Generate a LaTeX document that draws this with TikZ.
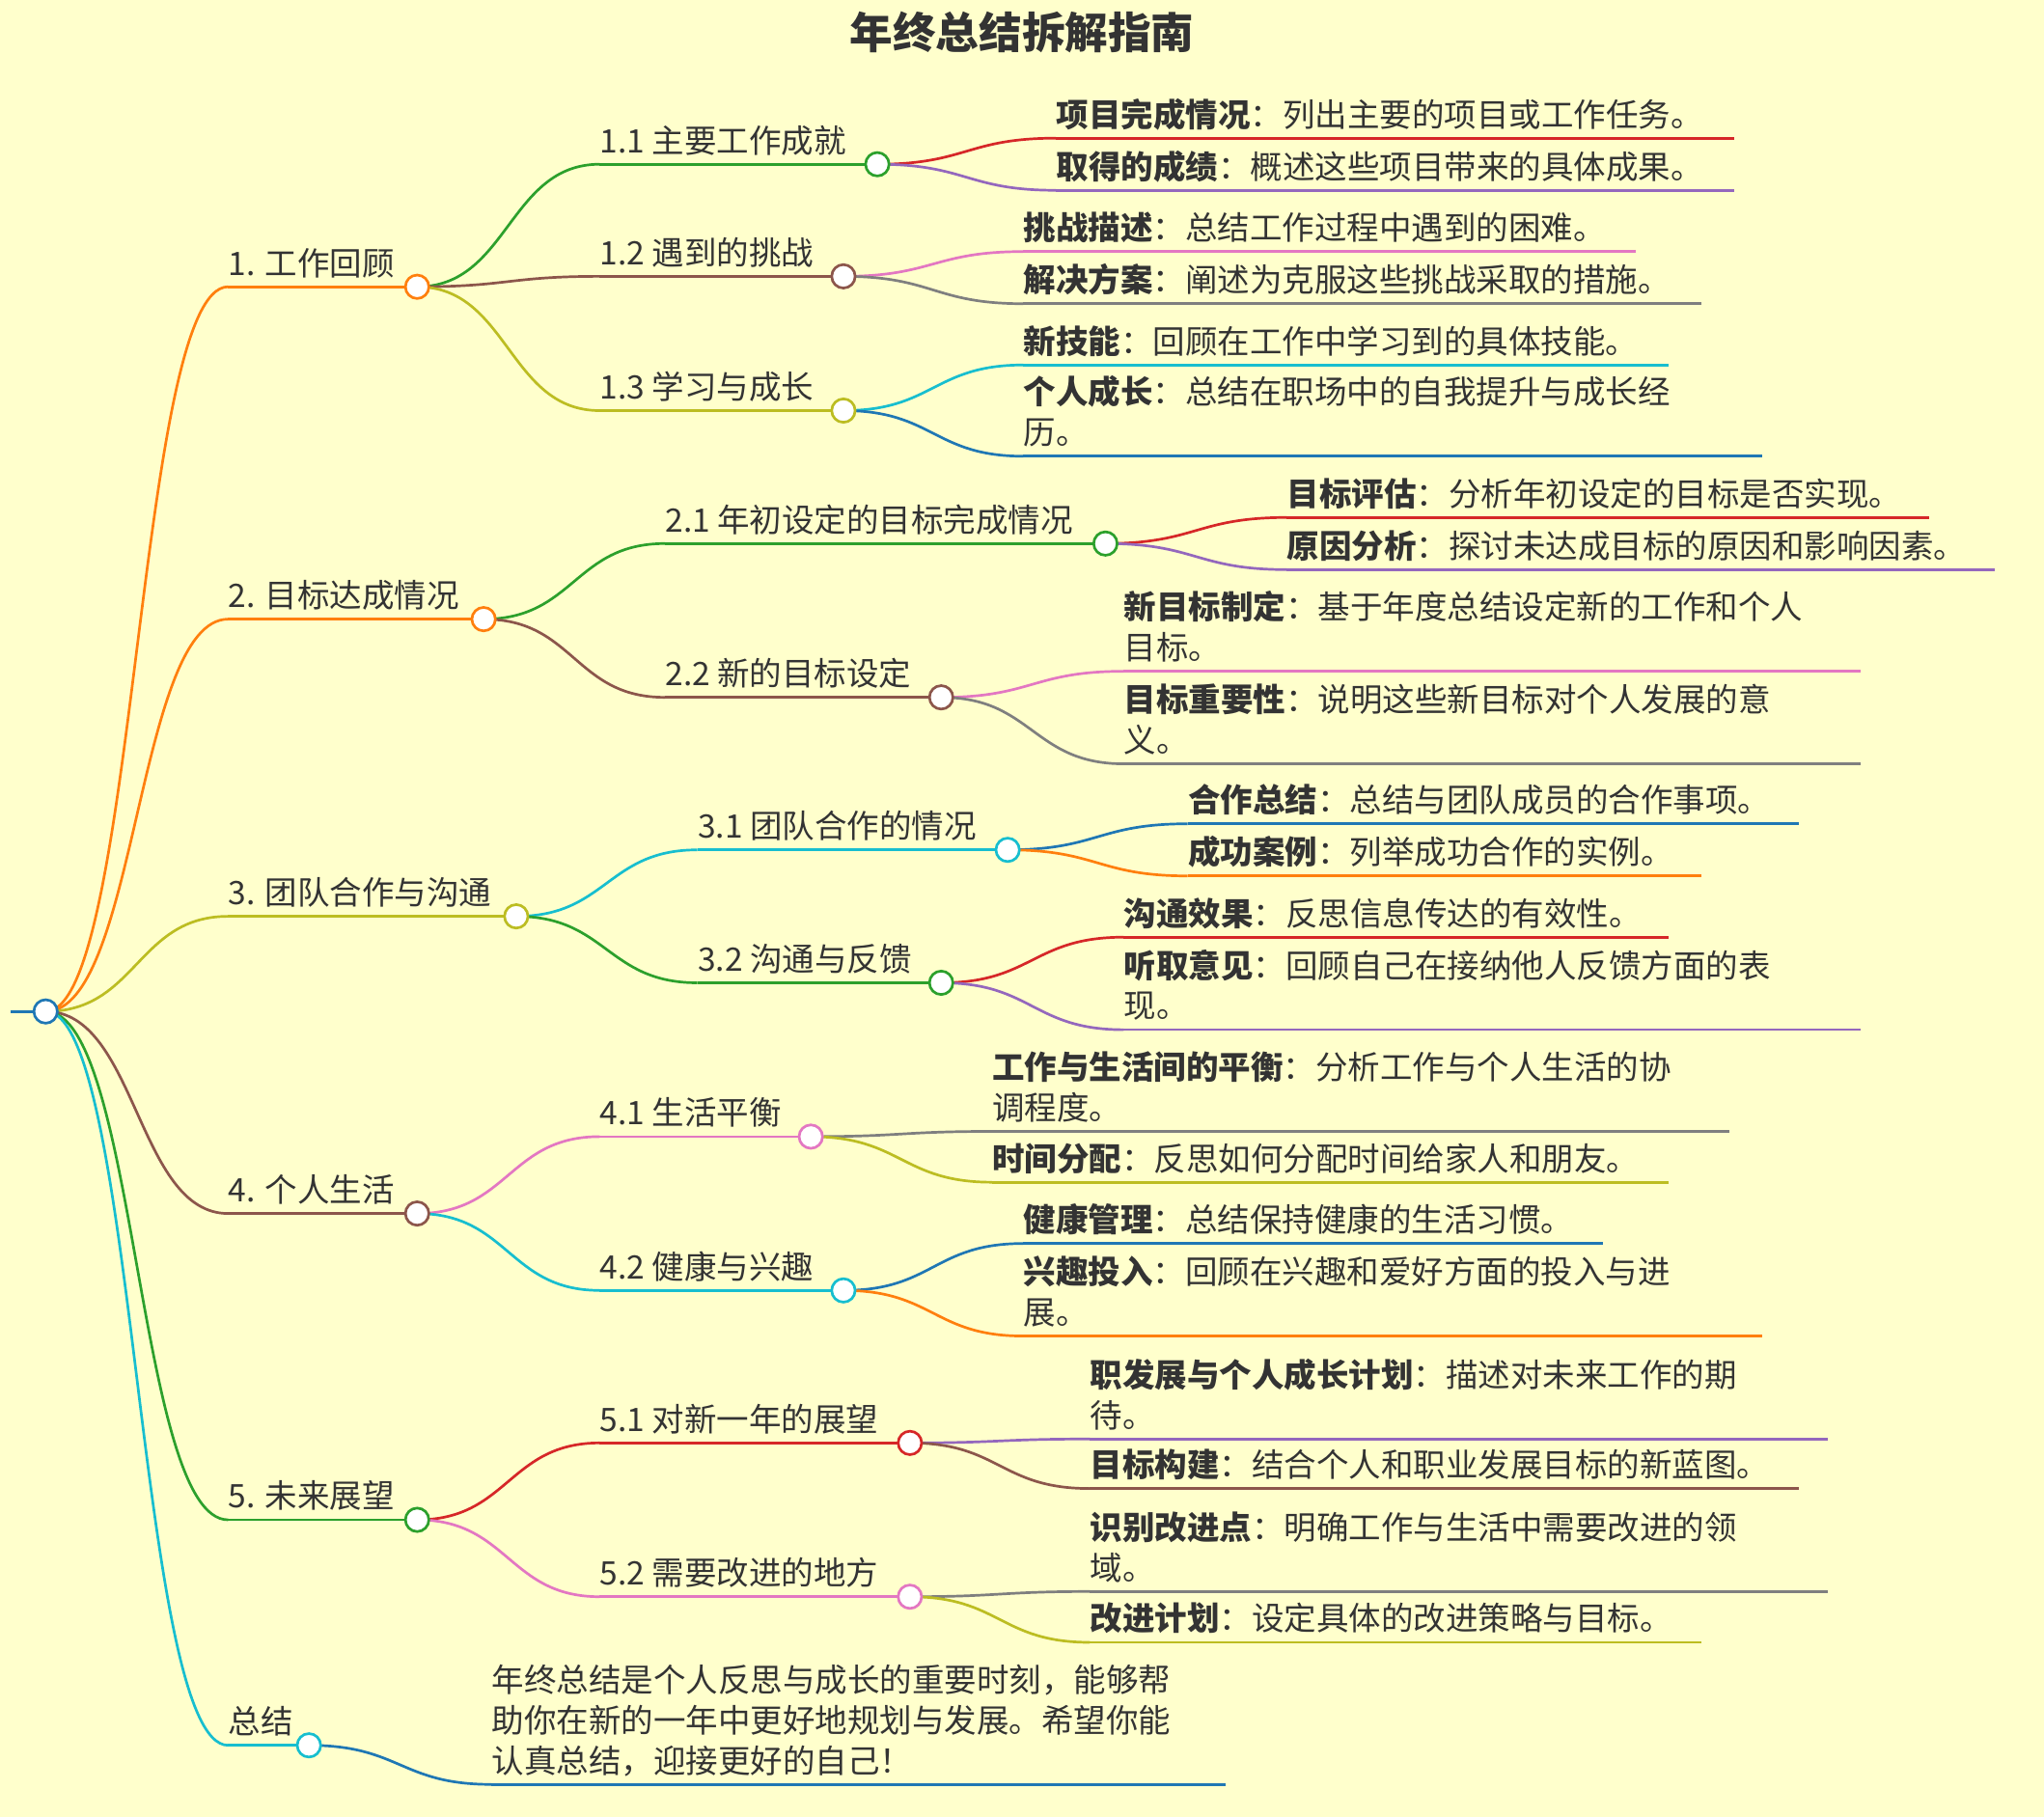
\documentclass[tikz,border=0pt]{standalone}
\usepackage{fontspec}
\setmainfont{Noto Sans CJK SC}
\usetikzlibrary{calc}
\definecolor{bg}{HTML}{FFFFCC}
\definecolor{tx}{HTML}{333333}
\definecolor{cB}{HTML}{1F77B4}\definecolor{cO}{HTML}{FF7F0E}\definecolor{cG}{HTML}{2CA02C}
\definecolor{cR}{HTML}{D62728}\definecolor{cP}{HTML}{9467BD}\definecolor{cN}{HTML}{8C564B}
\definecolor{cK}{HTML}{E377C2}\definecolor{cY}{HTML}{7F7F7F}\definecolor{cL}{HTML}{BCBD22}
\definecolor{cC}{HTML}{17BECF}
\tikzset{
 txt/.style={inner sep=0pt,text=tx,font=\fontsize{12.4}{15.5}\selectfont,align=left},
 dot/.style={circle,fill=white,line width=1pt,minimum size=9pt,inner sep=0pt},
 lnk/.style={line width=1pt}
}
\newcommand\mmlink[3]{\draw[lnk,#3] let \p1=(#1),\p2=(#2) in (\p1) .. controls ({(\x1+\x2)/2},\y1) and ({(\x1+\x2)/2},\y2) .. (\p2);}
% name parent x y cx color text
\newcommand\lvl[7]{\coordinate (#1-s) at (#3,#4);\coordinate (#1) at (#5,#4);
 \mmlink{#2}{#1-s}{#6}\draw[lnk,#6] (#1-s)--(#1);
 \node[txt,anchor=base west] (#1-t) at (#3,#4-9) {#7};}
% name parent x y endx color extra-lines text
\newcommand\leaf[8]{\coordinate (#1-s) at (#3,#4);\coordinate (#1-e) at (#5,#4);
 \mmlink{#2}{#1-s}{#6}\draw[lnk,#6] (#1-s)--(#1-e);
 \node[txt,anchor=base west] (#1-t) at (#3,#4-9) {#8};}
\newcommand\dotat[2]{\node[dot,draw=#2] (#1-c) at (#1) {};}
\begin{document}
\begin{tikzpicture}[x=0.5pt,y=-0.5pt]
\fill[bg] (0,0) rectangle (1568,1394);
\useasboundingbox (0,0) rectangle (1568,1394);
\node[txt,font=\fontsize{16.5}{19}\bfseries,anchor=center] (title) at (784,25) {年终总结拆解指南};
\coordinate (root) at (35,776);
\coordinate (rootl) at (8,776);
\draw[lnk,cB] (rootl)--(root);
% level 1
\lvl{a}{root}{175}{220}{320}{cO}{1. 工作回顾}
\lvl{b}{root}{175}{475}{371}{cO}{2. 目标达成情况}
\lvl{c}{root}{175}{703}{396}{cL}{3. 团队合作与沟通}
\lvl{d}{root}{175}{931}{320}{cN}{4. 个人生活}
\lvl{e}{root}{175}{1166}{320}{cG}{5. 未来展望}
\lvl{f}{root}{175}{1339}{237}{cC}{总结}
% level 2
\lvl{a1}{a}{460}{126}{673}{cG}{1.1 主要工作成就}
\lvl{a2}{a}{460}{212}{647}{cN}{1.2 遇到的挑战}
\lvl{a3}{a}{460}{315}{647}{cL}{1.3 学习与成长}
\lvl{b1}{b}{510}{417}{848}{cG}{2.1 年初设定的目标完成情况}
\lvl{b2}{b}{510}{535}{722}{cN}{2.2 新的目标设定}
\lvl{c1}{c}{535}{652}{773}{cC}{3.1 团队合作的情况}
\lvl{c2}{c}{535}{754}{722}{cG}{3.2 沟通与反馈}
\lvl{d1}{d}{460}{872}{622}{cK}{4.1 生活平衡}
\lvl{d2}{d}{460}{990}{647}{cC}{4.2 健康与兴趣}
\lvl{e1}{e}{460}{1107}{698}{cR}{5.1 对新一年的展望}
\lvl{e2}{e}{460}{1225}{698}{cK}{5.2 需要改进的地方}
% leaves
\leaf{a11}{a1}{810}{106}{1330}{cR}{0}{\textbf{项目完成情况}：列出主要的项目或工作任务。}
\leaf{a12}{a1}{810}{146}{1330}{cP}{0}{\textbf{取得的成绩}：概述这些项目带来的具体成果。}
\leaf{a21}{a2}{785}{193}{1255}{cK}{0}{\textbf{挑战描述}：总结工作过程中遇到的困难。}
\leaf{a22}{a2}{785}{233}{1305}{cY}{0}{\textbf{解决方案}：阐述为克服这些挑战采取的措施。}
\leaf{a31}{a3}{785}{280}{1280}{cC}{0}{\textbf{新技能}：回顾在工作中学习到的具体技能。}
\leaf{a32}{a3}{785}{350}{1352}{cB}{1}{\textbf{个人成长}：总结在职场中的自我提升与成长经\\历。}
\leaf{b11}{b1}{987}{397}{1480}{cR}{0}{\textbf{目标评估}：分析年初设定的目标是否实现。}
\leaf{b12}{b1}{987}{437}{1530}{cP}{0}{\textbf{原因分析}：探讨未达成目标的原因和影响因素。}
\leaf{b21}{b2}{862}{515}{1427}{cK}{1}{\textbf{新目标制定}：基于年度总结设定新的工作和个人\\目标。}
\leaf{b22}{b2}{862}{586}{1427}{cY}{1}{\textbf{目标重要性}：说明这些新目标对个人发展的意\\义。}
\leaf{c11}{c1}{911}{632}{1380}{cB}{0}{\textbf{合作总结}：总结与团队成员的合作事项。}
\leaf{c12}{c1}{911}{672}{1305}{cO}{0}{\textbf{成功案例}：列举成功合作的实例。}
\leaf{c21}{c2}{862}{719}{1280}{cR}{0}{\textbf{沟通效果}：反思信息传达的有效性。}
\leaf{c22}{c2}{862}{790}{1427}{cP}{1}{\textbf{听取意见}：回顾自己在接纳他人反馈方面的表\\现。}
\leaf{d11}{d1}{761}{868}{1327}{cY}{1}{\textbf{工作与生活间的平衡}：分析工作与个人生活的协\\调程度。}
\leaf{d12}{d1}{761}{907}{1280}{cL}{0}{\textbf{时间分配}：反思如何分配时间给家人和朋友。}
\leaf{d21}{d2}{785}{954}{1230}{cB}{0}{\textbf{健康管理}：总结保持健康的生活习惯。}
\leaf{d22}{d2}{785}{1025}{1352}{cO}{1}{\textbf{兴趣投入}：回顾在兴趣和爱好方面的投入与进\\展。}
\leaf{e11}{e1}{836}{1104}{1402}{cP}{1}{\textbf{职发展与个人成长计划}：描述对未来工作的期\\待。}
\leaf{e12}{e1}{836}{1142}{1380}{cN}{0}{\textbf{目标构建}：结合个人和职业发展目标的新蓝图。}
\leaf{e21}{e2}{836}{1221}{1402}{cY}{1}{\textbf{识别改进点}：明确工作与生活中需要改进的领\\域。}
\leaf{e22}{e2}{836}{1260}{1305}{cL}{0}{\textbf{改进计划}：设定具体的改进策略与目标。}
\leaf{f1}{f}{377}{1369}{940}{cB}{2}{年终总结是个人反思与成长的重要时刻，能够帮\\助你在新的一年中更好地规划与发展。希望你能\\认真总结，迎接更好的自己！}
% circles
\dotat{a}{cO}\dotat{b}{cO}\dotat{c}{cL}\dotat{d}{cN}\dotat{e}{cG}\dotat{f}{cC}
\dotat{a1}{cG}\dotat{a2}{cN}\dotat{a3}{cL}\dotat{b1}{cG}\dotat{b2}{cN}
\dotat{c1}{cC}\dotat{c2}{cG}\dotat{d1}{cK}\dotat{d2}{cC}\dotat{e1}{cR}\dotat{e2}{cK}
\dotat{root}{cB}
\end{tikzpicture}
\end{document}
